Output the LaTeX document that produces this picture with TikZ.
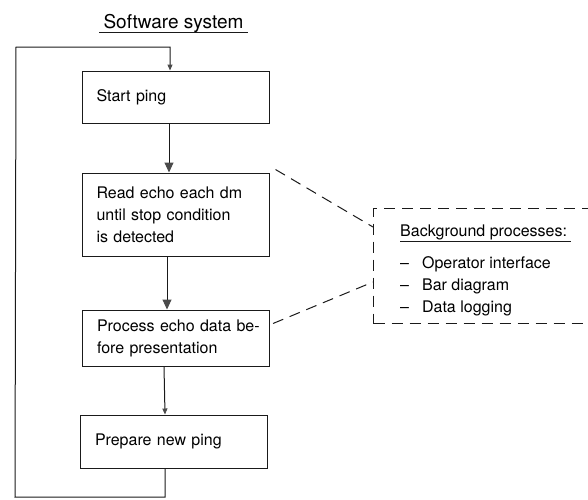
\documentclass[tikz,border=0pt]{standalone}
\usepackage{fontspec}
\setmainfont{TeX Gyre Heros}
\usepackage{tikz}
\usetikzlibrary{arrows.meta}
\definecolor{inkc}{HTML}{1A1A1A}
\definecolor{tipc}{HTML}{4A4A4A}
\tikzset{
  stepbox/.style={draw=inkc, line width=1pt, rectangle, minimum width=187pt, text width=170pt, inner xsep=8.5pt, inner ysep=0pt, align=left, font=\fontsize{16}{22}\selectfont, execute at begin node={\leftskip=6pt\relax}},
  flow/.style={draw=inkc, line width=1pt},
  bigtip/.style={-{Triangle[width=9pt,length=10pt,color=tipc]}},
  smalltip/.style={-{Triangle[width=5pt,length=6pt,color=tipc]}},
  bgline/.style={draw=inkc, line width=1pt, dash pattern=on 11pt off 7pt},
  bgframe/.style={bgline, rectangle, minimum width=250pt, minimum height=115pt, inner sep=0pt},
  bgtext/.style={inner sep=0pt, font=\fontsize{16}{22}\selectfont},
}

\begin{document}
\begin{tikzpicture}[x=1pt,y=-1pt]
\useasboundingbox (0,0) rectangle (588,499);
\node[bgtext, font=\fontsize{19}{22}\selectfont, anchor=base] (title) at (173.5,28) {Software system};
\draw[flow] ([xshift=-4pt,yshift=-4pt]title.base west) -- ([xshift=4pt,yshift=-4pt]title.base east);
\node[stepbox, minimum height=52pt] (start) at (175.5,97) {Start ping};
\node[stepbox, minimum height=83pt] (read) at (175.5,214.5) {Read echo each dm\\until stop condition\\is detected};
\node[stepbox, minimum height=56pt] (proc) at (176,338) {Process~echo~data~be-\\fore presentation};
\node[stepbox, minimum height=53pt] (prep) at (174,441.5) {Prepare new ping};
\draw[flow, bigtip] ([xshift=-6.5pt]start.south) -- ([xshift=-6.5pt]read.north);
\draw[flow, bigtip] ([xshift=-8.5pt]read.south) -- ([xshift=-9pt]proc.north);
\draw[flow, smalltip] ([xshift=-12pt]proc.south) -- ([xshift=-9pt]prep.north);
\coordinate (lb) at (15,497);
\coordinate (lt) at (16,47);
\draw[flow, smalltip] ([xshift=-9pt]prep.south) |- (lb) -- (lt) -| ([xshift=-5.5pt]start.north);
\node[bgframe, anchor=north west] (bgbox) at (373,208) {};
\draw[bgline] ([xshift=6pt,yshift=3pt]read.north east) -- ([yshift=-19pt]bgbox.north west);
\draw[bgline] ([xshift=3pt,yshift=-14pt]proc.north east) -- ([yshift=42pt]bgbox.south west);
\node[bgtext, anchor=base west] (bghead) at (400,236) {Background processes:};
\draw[flow] ([yshift=-5pt]bghead.base west) -- ([xshift=4pt,yshift=-5pt]bghead.base east);
\node[bgtext, anchor=base west] (bgop) at (400,268) {--\hspace{13pt}Operator interface};
\node[bgtext, anchor=base west] (bgbar) at (400,290) {--\hspace{13pt}Bar diagram};
\node[bgtext, anchor=base west] (bglog) at (400,312) {--\hspace{13pt}Data logging};
\end{tikzpicture}
\end{document}
